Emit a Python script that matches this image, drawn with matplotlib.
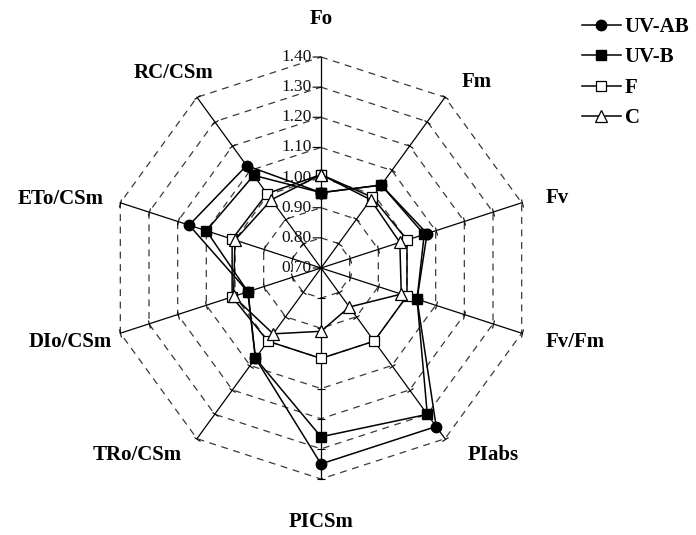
import numpy as np
import matplotlib
matplotlib.use("Agg")
import matplotlib.pyplot as plt
from matplotlib.markers import MarkerStyle
from matplotlib.transforms import Affine2D

# ---- data ----
categories = ['Fo', 'Fm', 'Fv', 'Fv/Fm', 'PIabs', 'PICSm',
              'TRo/CSm', 'DIo/CSm', 'ETo/CSm', 'RC/CSm']
uv_ab = [0.95, 1.04, 1.07, 1.035, 1.35, 1.35, 1.07, 0.955, 1.16, 1.12]
uv_b = [0.95, 1.04, 1.06, 1.035, 1.30, 1.26, 1.07, 0.955, 1.10, 1.08]
f_ser = [1.01, 0.99, 1.00, 1.00, 1.00, 1.00, 1.00, 1.01, 1.01, 1.005]
c_ser = [1.01, 0.98, 0.975, 0.98, 0.86, 0.91, 0.97, 1.005, 1.00, 0.98]
series_names = ['UV-AB', 'UV-B', 'F', 'C']
r_ticks = [0.70, 0.80, 0.90, 1.00, 1.10, 1.20, 1.30, 1.40]

serif = ['Liberation Serif', 'DejaVu Serif']

fig = plt.figure(figsize=(6.96, 5.35), dpi=100)
ax = fig.add_axes([110/696, 56/535, 422/696, 422/535], projection='polar')
ax.set_theta_zero_location('N')
ax.set_theta_direction(-1)
rmin, rmax = r_ticks[0], r_ticks[-1]
ax.set_ylim(rmin, rmax)
ax.grid(False)
ax.spines['polar'].set_visible(False)
ax.set_xticks([])
ax.set_yticks([])

n = len(categories)
theta = np.linspace(0, 2*np.pi, n, endpoint=False)
theta_c = np.append(theta, theta[0])

# dashed decagon gridlines
for v in r_ticks[1:]:
    ax.plot(theta_c, [v]*(n+1), color='#3a3a3a', lw=0.9,
            ls=(0, (5.5, 4.5)), zorder=1, clip_on=False)

# spokes
for th in theta:
    ax.plot([th, th], [rmin, rmax], color='black', lw=0.9, zorder=2,
            clip_on=False)

# tick marks on spokes
for i, th in enumerate(theta):
    if i == 0:
        continue
    scr_angle = 90 - np.degrees(th)
    m = MarkerStyle('|', transform=Affine2D().rotate_deg(scr_angle))
    ax.plot([th]*(len(r_ticks)-1), r_ticks[1:], ls='none', marker=m,
            ms=6, mew=0.8, color='black', zorder=2, clip_on=False)

# value-axis ticks and labels on Fo axis
for v in r_ticks:
    ax.annotate('', xy=(0, v), xytext=(-8, 0), textcoords='offset pixels',
                arrowprops=dict(arrowstyle='-', lw=0.8, color='black',
                                shrinkA=0, shrinkB=0))
    ax.annotate(f'{v:.2f}', xy=(0, v), xytext=(-9, 0),
                textcoords='offset pixels', ha='right', va='center',
                fontsize=12.5, family=serif, color='#111111')

# series
styles = [
    dict(marker='o', ms=7.5, mfc='black', mec='black'),
    dict(marker='s', ms=7.5, mfc='black', mec='black'),
    dict(marker='s', ms=7, mfc='white', mec='black', mew=0.9),
    dict(marker='^', ms=8, mfc='white', mec='black', mew=0.9),
]
for vals, name, st in zip([uv_ab, uv_b, f_ser, c_ser], series_names, styles):
    vv = list(vals) + [vals[0]]
    ax.plot(theta_c, vv, color='black', lw=1.1, label=name, zorder=3,
            clip_on=False, **st)

# category labels
label_offsets = {
    'Fo': (0, 38, 'center'),
    'Fm': (17, 15, 'left'),
    'Fv': (24, 5, 'left'),
    'Fv/Fm': (24, -9, 'left'),
    'PIabs': (23, -16, 'left'),
    'PICSm': (0, -43, 'center'),
    'TRo/CSm': (-15, -16, 'right'),
    'DIo/CSm': (-8, -9, 'right'),
    'ETo/CSm': (-17, 4, 'right'),
    'RC/CSm': (16, 24, 'right'),
}
for th, cat in zip(theta, categories):
    dx, dy, ha = label_offsets[cat]
    ax.annotate(cat, xy=(th, rmax), xytext=(dx, dy),
                textcoords='offset pixels', ha=ha, va='center',
                fontsize=15, fontweight='bold', family=serif,
                annotation_clip=False)

leg = fig.legend(loc='upper left', bbox_to_anchor=(582/696, 1 - 17/535),
                 bbox_transform=fig.transFigure, frameon=False,
                 borderpad=0, borderaxespad=0, handlelength=1.85,
                 handletextpad=0.2, labelspacing=0.5,
                 prop=dict(family=serif, weight='bold', size=15))

fig.savefig('out.png', dpi=100)
